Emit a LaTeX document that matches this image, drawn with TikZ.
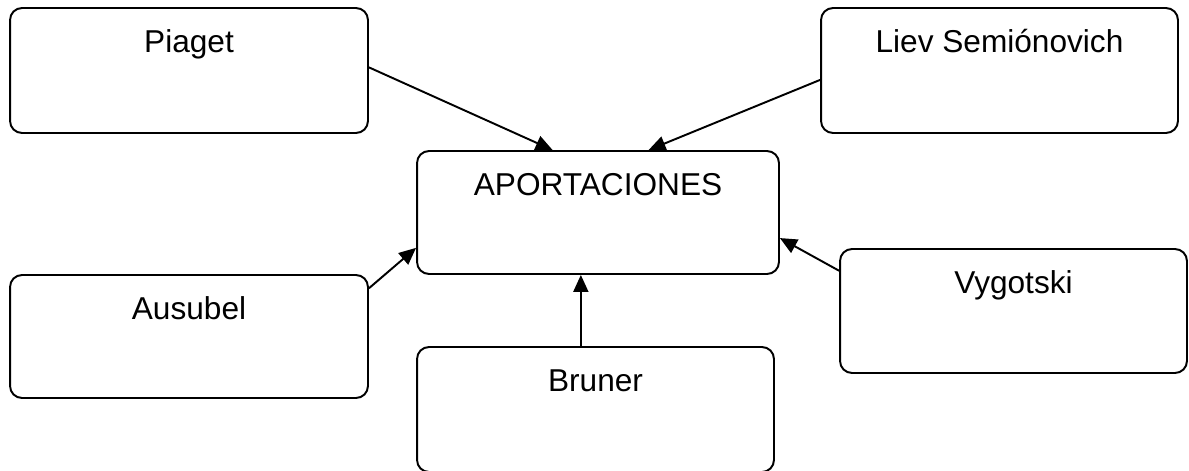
\documentclass[tikz,border=0pt]{standalone}
\usepackage{fontspec}
\setmainfont{Liberation Sans}
\usetikzlibrary{arrows.meta}
\tikzset{
  box/.style={draw, rounded corners=0.24cm, line width=1.1pt, inner xsep=0pt, inner ysep=0pt,
    minimum width=7.16cm, text height=0.88cm, text depth=1.58cm,
    font=\fontsize{18}{21}\selectfont},
  link/.style={line width=1.1pt, -{Triangle[length=0.34cm, width=0.3cm]}}
}
\begin{document}
\begin{tikzpicture}[x=0.02cm, y=-0.02cm]
\useasboundingbox (0,0) rectangle (1189,470);
\node[box, text depth=1.62cm] (piaget) at (189,70.5) {Piaget};
\node[box, minimum width=7.14cm, text depth=1.62cm] (liev) at (999.5,70.5) {Liev Semiónovich};
\node[box, minimum width=7.24cm] (aport) at (598,212.5) {APORTACIONES};
\node[box] (ausubel) at (189,336.5) {Ausubel};
\node[box, minimum width=6.94cm, text depth=1.6cm] (vygotski) at (1013.5,311) {Vygotski};
\node[box, minimum width=7.14cm, text depth=1.62cm] (bruner) at (595.5,409.5) {Bruner};
\draw[link] (piaget.1) -- (aport.126);
\draw[link] (liev.183) -- (aport.51.5);
\draw[link] (ausubel.15.5) -- (aport.191.7);
\draw[link] (vygotski.167.6) -- (aport.352.8);
\draw[link] (bruner.103) -- (bruner.103 |- aport.south);
\end{tikzpicture}
\end{document}
